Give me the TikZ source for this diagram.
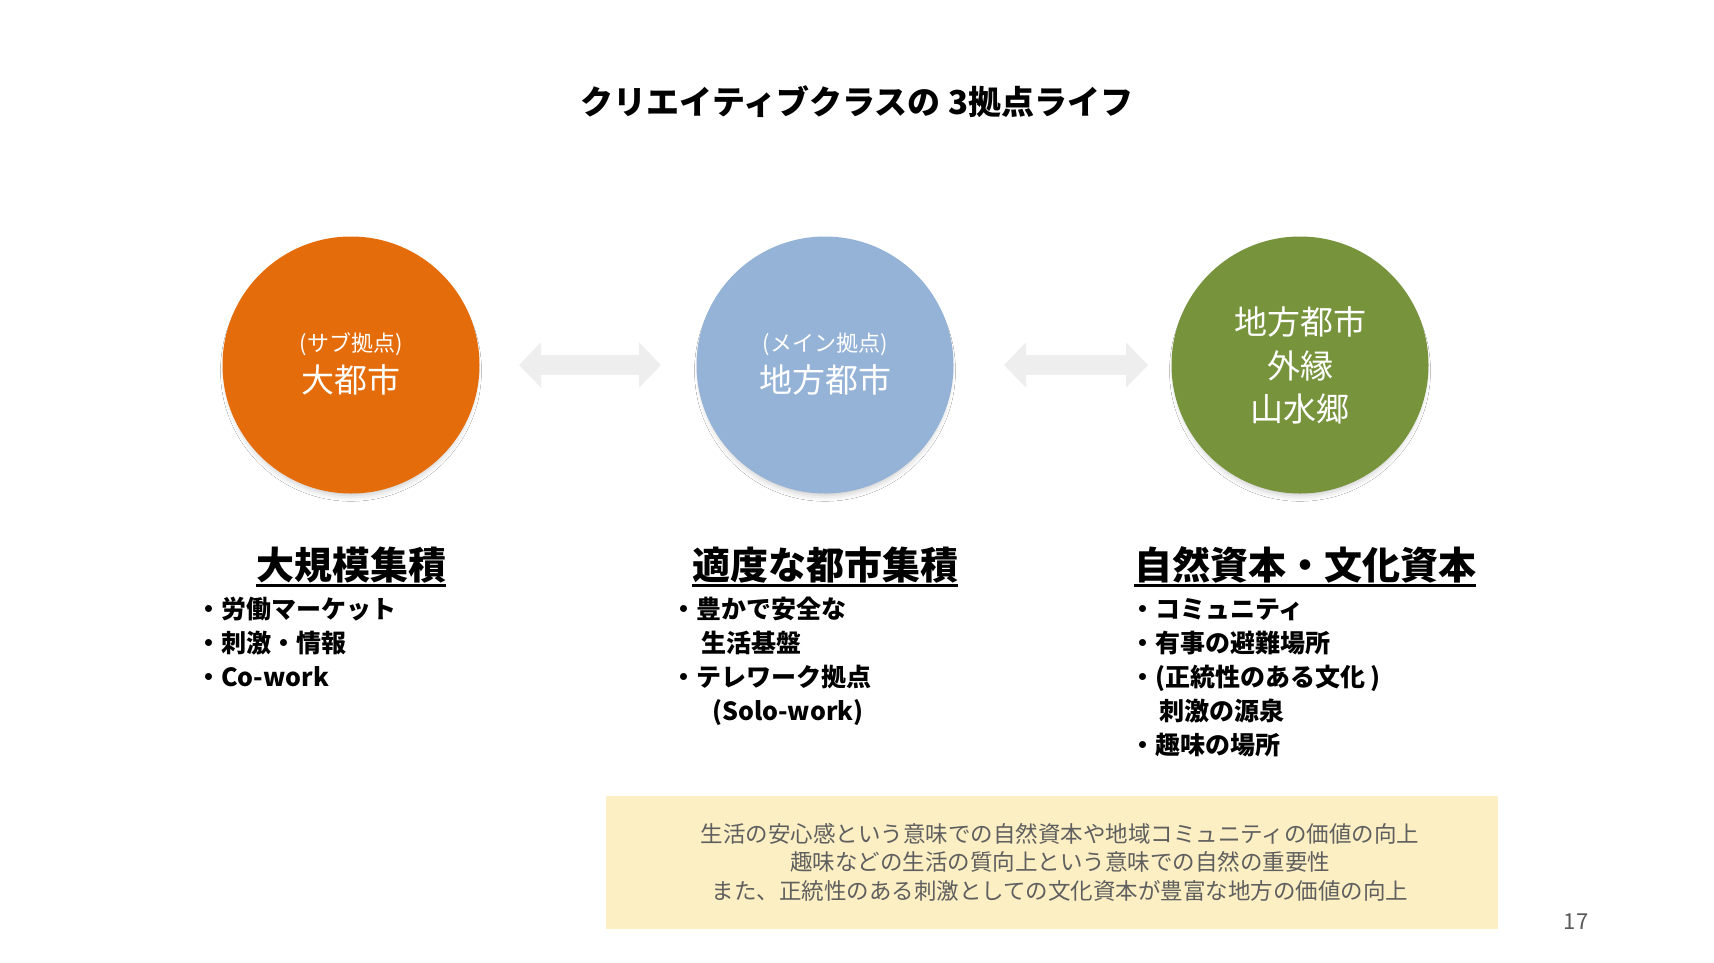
\documentclass[tikz,border=0pt]{standalone}
\usepackage{fontspec}
\setmainfont{Noto Sans CJK JP}
\usetikzlibrary{arrows.meta,shadows.blur}
\definecolor{orangeC}{RGB}{228,108,10}
\definecolor{blueC}{RGB}{149,179,215}
\definecolor{greenC}{RGB}{119,147,60}
\definecolor{arrowC}{RGB}{238,238,238}
\definecolor{noteFill}{RGB}{252,239,196}
\definecolor{noteText}{RGB}{95,95,95}
\definecolor{pageC}{RGB}{89,89,89}
\begin{document}
\begin{tikzpicture}[x=1pt,y=-1pt,
  hub/.style={circle, minimum size=257pt, inner sep=0pt,
    blur shadow={shadow xshift=0pt, shadow yshift=-6pt, shadow scale=0.97, shadow blur radius=6pt, shadow opacity=22}},
  smalllab/.style={text=white, font=\fontsize{22}{26}\selectfont, inner sep=0pt},
  biglab/.style={text=white, font=\fontsize{33}{40}\selectfont, inner sep=0pt},
  heading/.style={font=\bfseries\fontsize{38}{44}\selectfont, inner sep=0pt, text height=33.4pt, text depth=4.6pt},
  uline/.style={line width=2.6pt},
  item/.style={font=\bfseries\fontsize{25}{30}\selectfont, inner sep=0pt, anchor=west, text height=22pt, text depth=3pt},
  link/.style={line width=20pt, draw=arrowC, {Triangle[length=22pt,width=44pt]}-{Triangle[length=22pt,width=44pt]}},
  notetext/.style={text=noteText, font=\fontsize{22.5}{28.5}\selectfont, inner sep=0pt, text height=19.8pt, text depth=2.7pt}
]
\useasboundingbox (0,0) rectangle (1714,962);
\fill[white] (0,0) rectangle (1714,962);

% title
\node[font=\bfseries\fontsize{33}{38}\selectfont, inner sep=0pt] (title) at (857,102) {クリエイティブクラスの 3拠点ライフ};

% hubs
\node[hub, fill=orangeC] (c1) at (351,365) {};
\node[hub, fill=blueC] (c2) at (825,365) {};
\node[hub, fill=greenC] (c3) at (1300,365) {};

\node[smalllab] (c1s) at (351,344) {(サブ拠点)};
\node[biglab] (c1b) at (351,380) {大都市};
\node[smalllab] (c2s) at (825,344) {(メイン拠点)};
\node[biglab] (c2b) at (825,380) {地方都市};
\node[biglab] (c3a) at (1300,322) {地方都市};
\node[biglab] (c3b) at (1300,366) {外縁};
\node[biglab] (c3c) at (1300,409) {山水郷};

% arrows
\coordinate (a1l) at (519,365);
\coordinate (a1r) at (661,365);
\coordinate (a2l) at (1004,365);
\coordinate (a2r) at (1148,365);
\draw[link] (a1l) -- (a1r);
\draw[link] (a2l) -- (a2r);

% headings
\node[heading] (h1) at (351,565) {大規模集積};
\node[heading] (h2) at (825,565) {適度な都市集積};
\node[heading] (h3) at (1305,565) {自然資本・文化資本};
\draw[uline] ([yshift=-1pt]h1.south west) -- ([yshift=-1pt]h1.south east);
\draw[uline] ([yshift=-1pt]h2.south west) -- ([yshift=-1pt]h2.south east);
\draw[uline] ([yshift=-1pt]h3.south west) -- ([yshift=-1pt]h3.south east);

% column 1
\node[item] (l11) at (196,609) {・労働マーケット};
\node[item] (l12) at (196,643) {・刺激・情報};
\node[item] (l13) at (196,677) {・Co-work};

% column 2
\node[item] (l21) at (671,609) {・豊かで安全な};
\node[item] (l22) at (701,643) {生活基盤};
\node[item] (l23) at (671,677) {・テレワーク拠点};
\node[item] (l24) at (712,711) {(Solo-work)};

% column 3
\node[item] (l31) at (1130,609) {・コミュニティ};
\node[item] (l32) at (1130,643) {・有事の避難場所};
\node[item] (l33) at (1130,677) {・(正統性のある文化 )};
\node[item] (l34) at (1159,711) {刺激の源泉};
\node[item] (l35) at (1130,745) {・趣味の場所};

% note box
\node[fill=noteFill, minimum width=892pt, minimum height=133pt, inner sep=0pt, anchor=north west] (note) at (606,796) {};
\node[notetext] (n1) at (1060,834) {生活の安心感という意味での自然資本や地域コミュニティの価値の向上};
\node[notetext] (n2) at (1060,862) {趣味などの生活の質向上という意味での自然の重要性};
\node[notetext] (n3) at (1060,891) {また、正統性のある刺激としての文化資本が豊富な地方の価値の向上};

% page number
\node[text=pageC, font=\fontsize{22}{26}\selectfont, inner sep=0pt] (page) at (1576,922) {17};
\end{tikzpicture}
\end{document}
